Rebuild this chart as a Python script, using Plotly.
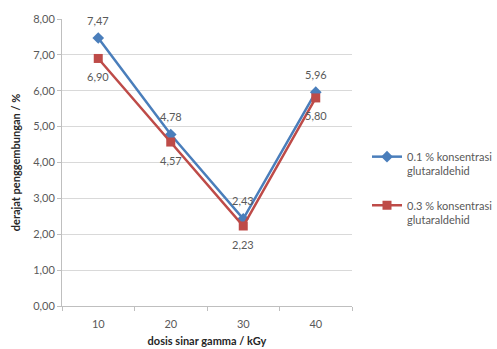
import plotly.graph_objects as go

# Gamma dose (kGy) and swelling degree (%) for two glutaraldehyde concentrations
doses = ["10", "20", "30", "40"]
swelling_01 = [7.47, 4.78, 2.43, 5.96]
swelling_03 = [6.90, 4.57, 2.23, 5.80]
y_ticks = [0, 1, 2, 3, 4, 5, 6, 7, 8]

FONT = "Lato"
TXT = "#595959"
BLUE = "#4A7EBB"
RED = "#BE4B48"


def fmt(v):
    return f"{v:.2f}".replace(".", ",")


fig = go.Figure()
fig.add_trace(go.Scatter(
    x=doses, y=swelling_01, mode="lines+markers",
    name="0.1 % konsentrasi<br>glutaraldehid",
    line=dict(color=BLUE, width=2.5),
    marker=dict(symbol="diamond", size=9, color=BLUE),
    legendgroup="a",
))
fig.add_trace(go.Scatter(
    x=doses, y=swelling_03, mode="lines+markers",
    name="0.3 % konsentrasi<br>glutaraldehid",
    line=dict(color=RED, width=2.5),
    marker=dict(symbol="square", size=9, color=RED),
    legendgroup="b",
))

# Value labels: above the 0.1 % series, below the 0.3 % series
# (category axis: annotations are placed by category index)
for i, v in enumerate(swelling_01):
    fig.add_annotation(x=i, y=v, text=fmt(v), showarrow=False, yshift=18,
                       font=dict(family=FONT, size=11, color=TXT))
for i, v in enumerate(swelling_03):
    fig.add_annotation(x=i, y=v, text=fmt(v), showarrow=False, yshift=-18,
                       font=dict(family=FONT, size=11, color=TXT))

fig.update_layout(
    width=497, height=349,
    margin=dict(l=62, r=145, t=17, b=43),
    paper_bgcolor="white", plot_bgcolor="white",
    font=dict(family=FONT, size=11, color=TXT),
    showlegend=True,
    legend=dict(
        xref="container", yref="container",
        x=367 / 497, y=1 - 143 / 349, xanchor="left", yanchor="top",
        font=dict(family=FONT, size=11, color=TXT),
        valign="top", tracegroupgap=17, itemwidth=30,
    ),
    xaxis=dict(
        type="category", range=[-0.5, 3.5], automargin=False,
        showline=True, linecolor="#BFBFBF", linewidth=1,
        ticks="outside", tickson="boundaries", ticklen=4, tickcolor="#BFBFBF",
        ticklabelstandoff=8,
        showgrid=False,
        title=dict(text="<b>dosis sinar gamma / kGy</b>", standoff=8,
                   font=dict(family=FONT, size=11, color="#262626")),
        tickfont=dict(family=FONT, size=11, color=TXT),
    ),
    yaxis=dict(
        range=[0, 8], tickvals=y_ticks, ticktext=[fmt(v) for v in y_ticks],
        showline=True, linecolor="#BFBFBF", linewidth=1,
        ticks="outside", ticklen=4, tickcolor="#BFBFBF",
        showgrid=True, gridcolor="#D9D9D9", gridwidth=1,
        zeroline=False,
        title=dict(text="<b>derajat penggembungan / %</b>", standoff=10,
                   font=dict(family=FONT, size=11, color="#262626")),
        tickfont=dict(family=FONT, size=11, color=TXT),
    ),
)

fig.write_html("out.html")
